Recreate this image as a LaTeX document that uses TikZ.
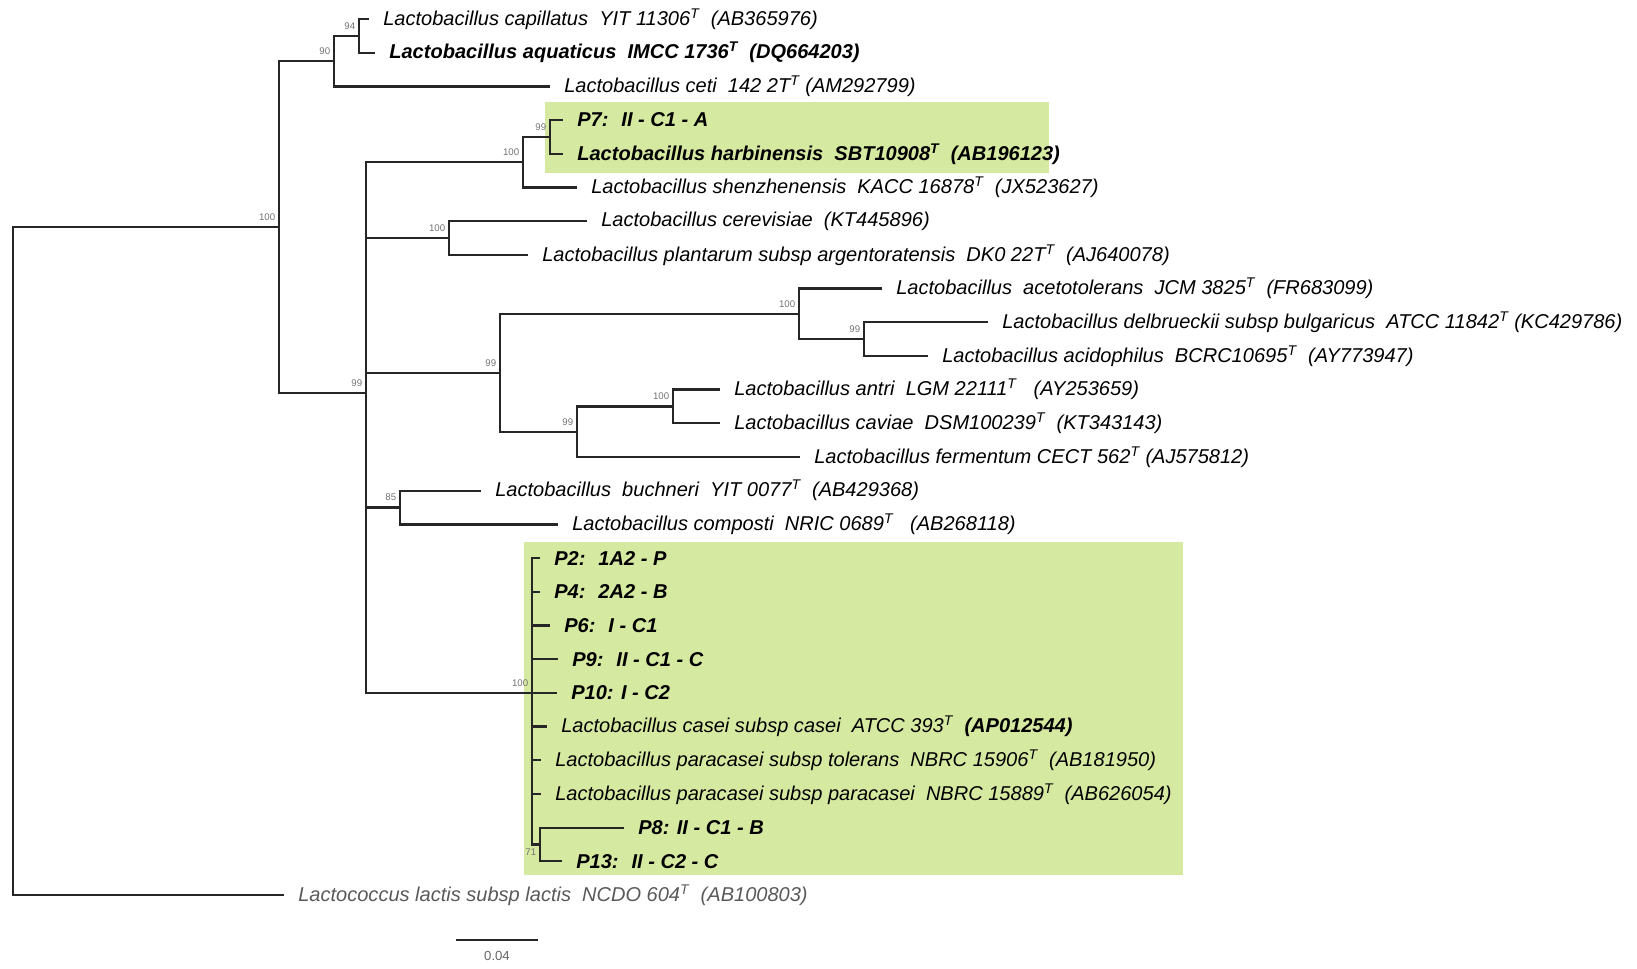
\documentclass[tikz,border=0pt]{standalone}
\usepackage{fontspec}
\setmainfont{Liberation Sans}
\usepackage{tikz}
\usetikzlibrary{positioning,calc}
\definecolor{hlgreen}{RGB}{214,233,160}

\begin{document}
\begin{tikzpicture}[
  x=0.02cm, y=-0.674cm,
  font=\fontsize{11.4}{13}\selectfont\itshape,
  lf/.style={anchor=west,inner xsep=0.28cm,inner ysep=1pt},
  pl/.style={lf,font=\fontsize{11.4}{13}\selectfont\itshape\bfseries},
  bs/.style={anchor=south east,inner sep=0.5pt,xshift=-1.5pt,yshift=3pt,
             font=\fontsize{5.5}{6}\selectfont\upshape,text=black!55},
  br/.style={draw=black!85,line width=1.3pt},
  hl/.style={fill=hlgreen,draw=none}
]
\useasboundingbox (0,-0.564) rectangle (1637,28.19);

% highlighted isolates
\fill[hl] (545,2.46) rectangle (1049,4.57);
\fill[hl] (524,15.52) rectangle (1183,25.4);

% leaves
\node[lf] (capil) at (369,0) {Lactobacillus capillatus~ YIT 11306\textsuperscript{T}~ (AB365976)};
\node[pl] (aquat) at (375,1) {Lactobacillus aquaticus~ IMCC 1736\textsuperscript{T}~ (DQ664203)};
\node[lf] (ceti) at (550,2) {Lactobacillus ceti~ 142 2T\textsuperscript{T} (AM292799)};
\node[pl] (p7) at (563,3) {P7:~ II - C1 - A};
\node[pl] (harb) at (563,4) {Lactobacillus harbinensis~ SBT10908\textsuperscript{T}~ (AB196123)};
\node[lf] (shenz) at (577,5) {Lactobacillus shenzhenensis~ KACC 16878\textsuperscript{T}~ (JX523627)};
\node[lf] (cerev) at (587,6) {Lactobacillus cerevisiae~ (KT445896)};
\node[lf] (plant) at (528,7) {Lactobacillus plantarum subsp argentoratensis~ DK0 22T\textsuperscript{T}~ (AJ640078)};
\node[lf] (aceto) at (882,8) {Lactobacillus~ acetotolerans~ JCM 3825\textsuperscript{T}~ (FR683099)};
\node[lf] (delb) at (988,9) {Lactobacillus delbrueckii subsp bulgaricus~ ATCC 11842\textsuperscript{T} (KC429786)};
\node[lf] (acido) at (928,10) {Lactobacillus acidophilus~ BCRC10695\textsuperscript{T}~ (AY773947)};
\node[lf] (antri) at (720,11) {Lactobacillus antri~ LGM 22111\textsuperscript{T}~~ (AY253659)};
\node[lf] (cavi) at (720,12) {Lactobacillus caviae~ DSM100239\textsuperscript{T}~ (KT343143)};
\node[lf] (ferm) at (800,13) {Lactobacillus fermentum CECT 562\textsuperscript{T} (AJ575812)};
\node[lf] (buch) at (481,14) {Lactobacillus~ buchneri~ YIT 0077\textsuperscript{T}~ (AB429368)};
\node[lf] (compo) at (558,15) {Lactobacillus composti~ NRIC 0689\textsuperscript{T}~~ (AB268118)};
\node[pl] (p2) at (540,16) {P2:~ 1A2 - P};
\node[pl] (p4) at (540,17) {P4:~ 2A2 - B};
\node[pl] (p6) at (550,18) {P6:~ I - C1};
\node[pl] (p9) at (558,19) {P9:~ II - C1 - C};
\node[pl] (p10) at (557,20) {P10: I - C2};
\node[lf] (casei) at (547,21) {Lactobacillus casei subsp casei~ ATCC 393\textsuperscript{T}~ \textbf{(AP012544)}};
\node[lf] (toler) at (541,22) {Lactobacillus paracasei subsp tolerans~ NBRC 15906\textsuperscript{T}~ (AB181950)};
\node[lf] (parac) at (541,23) {Lactobacillus paracasei subsp paracasei~ NBRC 15889\textsuperscript{T}~ (AB626054)};
\node[pl] (p8) at (624,24) {P8: II - C1 - B};
\node[pl] (p13) at (562,25) {P13:~ II - C2 - C};
\node[lf,text=black!65] (lacto) at (284,26) {Lactococcus lactis subsp lactis~ NCDO 604\textsuperscript{T}~ (AB100803)};

% internal nodes
\coordinate (nC) at (359,0.5);
\coordinate (nB) at (334,1.25);
\coordinate (nF) at (550,3.5);
\coordinate (nE) at (523,4.25);
\coordinate (nG) at (449,6.5);
\coordinate (nJ) at (864,9.5);
\coordinate (nI) at (799,8.75);
\coordinate (nL) at (673,11.5);
\coordinate (nK) at (577,12.25);
\coordinate (nH) at (500,10.5);
\coordinate (nM) at (400,14.5);
\coordinate (nO) at (540,24.5);
\coordinate (nN) at (532,20);
\coordinate (nD) at (366,11.1);
\coordinate (nA) at (279,6.18);
\coordinate (root) at (13,16);

% branches
\draw[br] (nC) |- (capil.west) (nC) |- (aquat.west);
\draw[br] (nB) |- (nC) (nB) |- (ceti.west);
\draw[br] (nF) |- (p7.west) (nF) |- (harb.west);
\draw[br] (nE) |- (nF) (nE) |- (shenz.west);
\draw[br] (nG) |- (cerev.west) (nG) |- (plant.west);
\draw[br] (nJ) |- (delb.west) (nJ) |- (acido.west);
\draw[br] (nI) |- (aceto.west) (nI) |- (nJ);
\draw[br] (nL) |- (antri.west) (nL) |- (cavi.west);
\draw[br] (nK) |- (nL) (nK) |- (ferm.west);
\draw[br] (nH) |- (nI) (nH) |- (nK);
\draw[br] (nM) |- (buch.west) (nM) |- (compo.west);
\draw[br] (nO) |- (p8.west) (nO) |- (p13.west);
\foreach \c in {p2,p4,p6,p9,p10,casei,toler,parac}
  \draw[br] (nN) |- (\c.west);
\draw[br] (nN) |- (nO);
\foreach \c in {nE,nG,nH,nM,nN}
  \draw[br] (nD) |- (\c);
\draw[br] (nA) |- (nB) (nA) |- (nD);
\draw[br] (root) |- (nA) (root) |- (lacto.west);

% bootstrap values
\node[bs] (bC) at (nC) {94};
\node[bs] (bB) at (nB) {90};
\node[bs] (bF) at (nF) {99};
\node[bs] (bE) at (nE) {100};
\node[bs] (bG) at (nG) {100};
\node[bs] (bJ) at (nJ) {99};
\node[bs] (bI) at (nI) {100};
\node[bs] (bL) at (nL) {100};
\node[bs] (bK) at (nK) {99};
\node[bs] (bH) at (nH) {99};
\node[bs] (bM) at (nM) {85};
\node[bs] (bN) at (nN) {100};
\node[bs,anchor=north east,yshift=-5pt] (bO) at (nO) {71};
\node[bs] (bD) at (nD) {99};
\node[bs] (bA) at (nA) {100};

% scale bar
\coordinate (sbl) at (456,27.33);
\coordinate (sbr) at (538,27.33);
\draw[br,line width=1pt] (sbl) -- (sbr);
\node[font=\fontsize{7.5}{8}\selectfont\upshape,text=black!60,below=3pt] (sbt) at ($(sbl)!0.5!(sbr)$) {0.04};
\end{tikzpicture}
\end{document}
